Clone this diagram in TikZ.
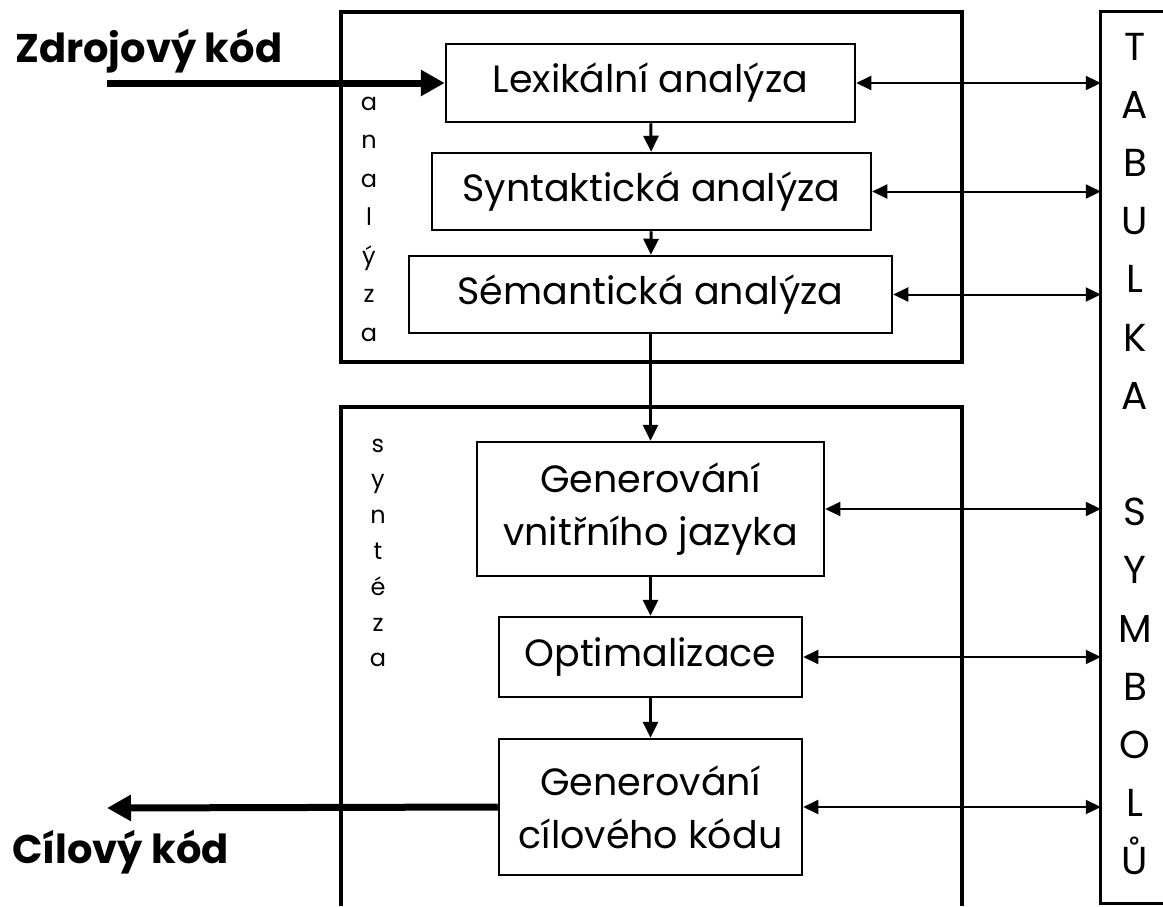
\documentclass[tikz,border=0pt]{standalone}
\usepackage{fontspec}
\setmainfont{Poppins}
\usetikzlibrary{arrows.meta,positioning,calc}

\begin{document}
\begin{tikzpicture}[x=1pt,y=-1pt]
    \tikzstyle{stage} = [draw, line width=2.5pt, inner sep=0pt, align=center, font=\fontsize{38}{53}\selectfont]
    \tikzstyle{frame} = [line width=4pt]
    \tikzstyle{vtext} = [align=center, inner sep=0pt]
    \tikzstyle{flow} = [line width=3pt, -{Triangle[length=16pt,width=15pt]}]
    \tikzstyle{link} = [line width=2pt, {Triangle[length=15pt,width=14pt]}-{Triangle[length=15pt,width=14pt]}]
    \tikzstyle{io} = [line width=7pt, -{Triangle[length=24pt,width=25pt]}]

    \useasboundingbox (0,0) rectangle (1163,906);

    % Frames
    \draw[frame] (341,12) rectangle (962,362);
    \draw[frame] (341,906) -- (341,407) -- (962,407) -- (962,906);
    \node[minimum width=62pt, minimum height=891pt] (tab) at (1132,457.5) {};
    \draw[line width=3pt] (tab.north east) -- (tab.north west) -- (tab.south west) -- (tab.south east);
    \node[vtext, font=\fontsize{39}{58.2}\selectfont] (tabtext) at (1135,454)
        {T\\A\\B\\U\\L\\K\\A\\\mbox{}\\S\\Y\\M\\B\\O\\L\\Ů};

    % Side labels
    \node[vtext, font=\fontsize{24}{38.5}\selectfont] (anl) at (369,219) {a\\n\\a\\l\\ý\\z\\a};
    \node[vtext, font=\fontsize{24}{35.8}\selectfont] (syt) at (378,553) {s\\y\\n\\t\\é\\z\\a};

    % Stages
    \node[stage, minimum width=409pt, minimum height=78pt] (lex) at (650.5,83) {Lexikální analýza};
    \node[stage, minimum width=439pt, minimum height=77pt] (syn) at (651.5,191.5) {Syntaktická analýza};
    \node[stage, minimum width=483pt, minimum height=77pt] (sem) at (650.5,294.5) {Sémantická analýza};
    \node[stage, minimum width=347pt, minimum height=134pt] (genv) at (650.5,509) {Generování\\vnitřního jazyka};
    \node[stage, minimum width=303pt, minimum height=80pt] (opt) at (650.5,657) {Optimalizace};
    \node[stage, minimum width=303pt, minimum height=136pt] (genc) at (650.5,807) {Generování\\cílového kódu};

    % Flow between stages
    \draw[flow] (lex) -- (syn);
    \draw[flow] (syn) -- (sem);
    \draw[flow] (sem) -- (genv);
    \draw[flow] (genv) -- (opt);
    \draw[flow] (opt) -- (genc);

    % Links to the table
    \foreach \s in {lex,syn,sem,genv,opt,genc}
        \draw[link] (\s.east) -- (\s.east -| tab.west);

    % Input and output
    \coordinate (src) at (107,83);
    \coordinate (dst) at (107,808);
    \draw[io] (src) -- (lex.west);
    \draw[io] (genc.west) -- (dst);
    \node[anchor=base west, inner sep=0pt, font=\fontsize{40}{48}\selectfont\bfseries] (srclabel) at (15,62) {Zdrojový kód};
    \node[anchor=base west, inner sep=0pt, font=\fontsize{40}{48}\selectfont\bfseries] (dstlabel) at (12,863) {Cílový kód};
\end{tikzpicture}
\end{document}
